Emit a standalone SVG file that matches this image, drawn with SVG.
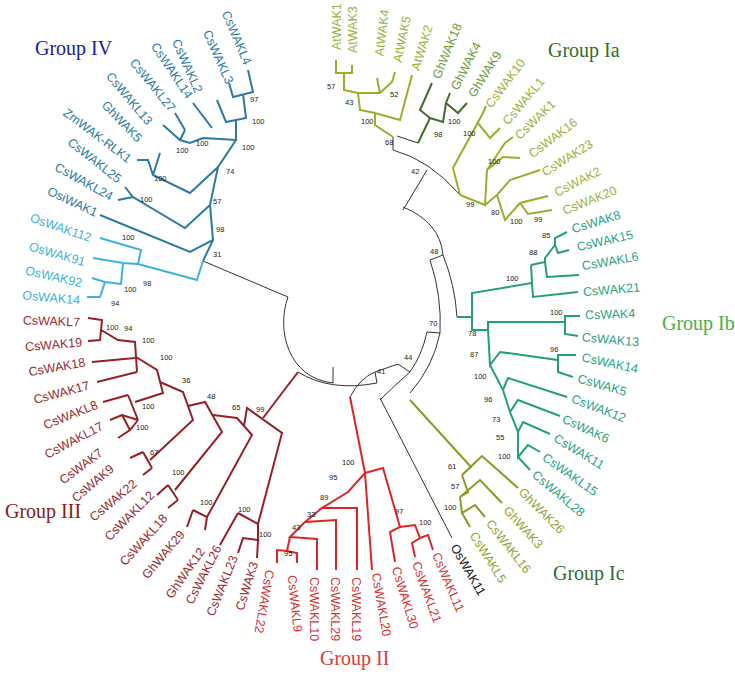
<svg xmlns="http://www.w3.org/2000/svg" width="735" height="686" viewBox="0 0 735 686">
<style>
text{font-family:"Liberation Sans",Arial,sans-serif;font-size:12.5px}
.b{font-size:7.5px;fill:#222}
.g{font-family:"Liberation Serif","Times New Roman",serif;font-size:20px}
path{fill:none;stroke-linejoin:miter}
.k{stroke:#333;stroke-width:1}
.t4{stroke:#2a7aa2;stroke-width:2}.f4{fill:#2a7aa2}
.os{stroke:#3cb3da;stroke-width:2}.fos{fill:#3cb3da}
.t3{stroke:#962026;stroke-width:2}.f3{fill:#9a2a2e}
.t2{stroke:#dd2525;stroke-width:2}.f2{fill:#d83030}
.tc{stroke:#8a9a22;stroke-width:2}.fc{fill:#94a32c}
.tb{stroke:#22a07a;stroke-width:2}.fb{fill:#2aa47e}
.ta{stroke:#9aae2e;stroke-width:2}.fa{fill:#9cb23e}
.tg{stroke:#3e6e28;stroke-width:2}.fg{fill:#6a9a3a}
</style>
<rect width="735" height="686" fill="#fff"/>
<g id="connectors">
<path class="k" d="M203,261 L288,297 M288,297 C276,330 288,378 333,383 L333,367 M298,372 Q330,392 377,383 L375,372 M350,397 Q360,378 375,372 L398,364 M380,400 Q395,385 410,372 L398,364 M410,372 Q422,355 427,332 L440,333 M410,393 Q433,367 440,333 M430,260 Q442,296 440,333 M430,260 L443,255 M403,207 Q440,222 443,255 Q455,285 457,317 M403,210 L427,170 M393,150 Q430,160 460,195 M393,137 L393,150 M397,136 L418,143 M380,398 L452,538"/>
<path class="t3" stroke-width="1" d="M298,372 L263,418"/>
<path class="tg" stroke-width="1" d="M418,143 L430,118"/>
<path class="t4" d="M248,70 L253,92 L233,97 L229,83 M243,94 L246,118 L226,122 L217,100 M236,120 L236,140 L203,138 M212,128 L193,103 M203,138 L190,143 L180,140 L163,125 M185,130 L175,113 M180,140 L185,130 M236,140 L218,167 L190,193 L153,175 L148,160 L137,160 M153,175 L160,153 M218,167 L210,205 L185,228 L133,197 L125,187 M133,197 L118,200 M210,205 L213,240 L190,252 L100,215 M213,240 L203,261"/>
<path class="os" d="M203,261 L197,280 L138,264 L141,250 L100,238 M138,264 L123,263 L93,258 M123,263 L121,284 L105,282 L92,278 M105,282 L100,297 L87,297"/>
<path class="t3" d="M88,318 L102,320 L100,340 L88,341 M101,330 L118,340 L135,342 L137,372 M135,358 L92,362 M137,372 L97,382 M136,357 L157,370 L163,393 L135,402 M128,395 L138,420 M128,395 L103,402 M138,420 L122,415 L110,420 M138,420 L130,430 L118,438 M122,415 L130,430 M160,382 L183,392 L193,420 L150,460 M143,452 L152,468 M143,452 L130,458 M152,468 L143,475 M188,406 L205,402 L222,432 L175,490 M168,485 L178,500 M168,485 L157,495 M178,500 L168,508 M213,415 L237,418 L252,435 L207,517 M193,510 L207,517 L205,530 M193,510 L187,527 M244,426 L247,408 L282,433 L258,524 M238,513 L258,524 M238,513 L220,545 M258,524 L258,540 L243,538 L238,553 M258,540 L257,558"/>
<path class="t2" d="M350,397 L365,473 L383,468 L400,527 L390,532 L395,562 M400,527 L415,525 L420,538 L412,543 L415,557 M420,538 L428,535 L433,550 M365,473 L348,492 L322,508 L357,508 L357,570 M322,508 L305,522 L336,520 L336,570 M305,522 L290,537 L317,539 L317,570 M290,537 L287,551 L277,550 L277,563 M287,551 L297,553 L297,563 M365,473 L372,570"/>
<path class="tc" d="M410,400 L471,467 L462,475 L482,456 L518,488 M462,475 L468,492 L460,497 L480,480 L502,503 M460,497 L462,513 L475,505 L485,517 M462,513 L470,527"/>
<path class="tb" d="M457,317 L472,317 L472,293 L532,283 L531,265 M532,283 L533,297 L578,292 M531,265 L545,262 L545,258 L555,245 L555,238 L567,232 M555,245 L558,253 L569,250 M545,262 L547,277 L579,275 M472,317 L472,330 L488,330 L488,322 L565,322 L565,316 L580,316 M565,322 L565,334 L578,336 M488,330 L490,365 L500,352 L558,360 L558,355 L576,355 M558,360 L558,372 L573,377 M490,365 L503,390 L508,378 L567,397 M503,390 L510,412 L518,400 L560,416 M510,412 L518,432 L523,422 L550,434 M518,432 L518,457 L528,445 L540,452 M518,457 L530,470"/>
<path class="ta" d="M393,137 L375,125 L375,113 L400,120 L412,75 M375,113 L360,110 L358,93 L380,93 L392,82 L395,72 M380,93 L377,78 M358,93 L344,90 L344,73 L336,73 L336,60 M344,73 L352,73 L352,65 M460,195 L453,168 L483,113 L486,106 M477,122 L490,138 L500,128 M460,195 L485,205 L487,170 L505,143 L513,137 M487,170 L503,157 L520,158 M485,205 L497,195 L510,180 L540,170 M497,195 L505,220 L520,203 L548,196 M520,203 L528,214 L552,210"/>
<path class="tg" d="M430,118 L420,110 L432,83 M430,118 L443,122 L446,103 L450,93 M446,103 L458,113 L467,103"/>
</g>
<g id="labels4">
<text class="f4" transform="translate(248,64) rotate(67)" text-anchor="end" dy="0.35em">CsWAKL4</text>
<text class="f4" transform="translate(230,83) rotate(66)" text-anchor="end" dy="0.35em">CsWAKL3</text>
<text class="f4" transform="translate(199,92) rotate(66)" text-anchor="end" dy="0.35em">CsWAKL2</text>
<text class="f4" transform="translate(190,97) rotate(56)" text-anchor="end" dy="0.35em">CsWAKL14</text>
<text class="f4" transform="translate(173,110) rotate(51)" text-anchor="end" dy="0.35em">CsWAKL27</text>
<text class="f4" transform="translate(150,123) rotate(50)" text-anchor="end" dy="0.35em">CsWAKL13</text>
<text class="f4" transform="translate(140,140) rotate(46)" text-anchor="end" dy="0.35em">GhWAK5</text>
<text class="f4" transform="translate(130,160) rotate(37)" text-anchor="end" dy="0.35em">ZmWAK-RLK1</text>
<text class="f4" transform="translate(120,180) rotate(38)" text-anchor="end" dy="0.35em">CsWAKL25</text>
<text class="f4" transform="translate(112,197) rotate(29)" text-anchor="end" dy="0.35em">CsWAKL24</text>
<text class="f4" transform="translate(97,213) rotate(25)" text-anchor="end" dy="0.35em">OsiWAK1</text>
<text class="fos" transform="translate(91,238) rotate(19)" text-anchor="end" dy="0.35em">OsWAK112</text>
<text class="fos" transform="translate(85,262) rotate(16)" text-anchor="end" dy="0.35em">OsWAK91</text>
<text class="fos" transform="translate(82,283) rotate(13)" text-anchor="end" dy="0.35em">OsWAK92</text>
<text class="fos" transform="translate(80,300) rotate(5)" text-anchor="end" dy="0.35em">OsWAK14</text>
</g>
<g id="labels3">
<text class="f3" transform="translate(80,322) rotate(2)" text-anchor="end" dy="0.35em">CsWAKL7</text>
<text class="f3" transform="translate(82,342) rotate(-5)" text-anchor="end" dy="0.35em">CsWAK19</text>
<text class="f3" transform="translate(85,362) rotate(-10)" text-anchor="end" dy="0.35em">CsWAK18</text>
<text class="f3" transform="translate(89,385) rotate(-15)" text-anchor="end" dy="0.35em">CsWAK17</text>
<text class="f3" transform="translate(97,404) rotate(-22)" text-anchor="end" dy="0.35em">CsWAKL8</text>
<text class="f3" transform="translate(102,425) rotate(-28)" text-anchor="end" dy="0.35em">CsWAKL17</text>
<text class="f3" transform="translate(101,451) rotate(-37)" text-anchor="end" dy="0.35em">CsWAK7</text>
<text class="f3" transform="translate(112,467) rotate(-40)" text-anchor="end" dy="0.35em">CsWAK9</text>
<text class="f3" transform="translate(135,482) rotate(-40)" text-anchor="end" dy="0.35em">CsWAK22</text>
<text class="f3" transform="translate(152,493) rotate(-45)" text-anchor="end" dy="0.35em">CsWAKL12</text>
<text class="f3" transform="translate(165,516) rotate(-48)" text-anchor="end" dy="0.35em">CsWAKL18</text>
<text class="f3" transform="translate(182,532) rotate(-50)" text-anchor="end" dy="0.35em">GhWAK29</text>
<text class="f3" transform="translate(202,549) rotate(-55)" text-anchor="end" dy="0.35em">GhWAK12</text>
<text class="f3" transform="translate(218,546) rotate(-63)" text-anchor="end" dy="0.35em">CsWAKL26</text>
<text class="f3" transform="translate(234,556) rotate(-68)" text-anchor="end" dy="0.35em">CsWAKL23</text>
<text class="f3" transform="translate(254,562) rotate(-73)" text-anchor="end" dy="0.35em">CsWAK3</text>
</g>
<g id="labels2">
<text class="f2" transform="translate(270,570) rotate(100)" dy="0.35em">CsWAKL22</text>
<text class="f2" transform="translate(292,575) rotate(84)" dy="0.35em">CsWAKL9</text>
<text class="f2" transform="translate(314,577) rotate(90)" dy="0.35em">CsWAKL10</text>
<text class="f2" transform="translate(335,577) rotate(90)" dy="0.35em">CsWAKL29</text>
<text class="f2" transform="translate(356,577) rotate(90)" dy="0.35em">CsWAKL19</text>
<text class="f2" transform="translate(376,573) rotate(80)" dy="0.35em">CsWAKL20</text>
<text class="f2" transform="translate(396,567) rotate(73)" dy="0.35em">CsWAKL30</text>
<text class="f2" transform="translate(416,562) rotate(70)" dy="0.35em">CsWAKL21</text>
<text class="f2" transform="translate(436,553) rotate(67)" dy="0.35em">CsWAKL11</text>
<text fill="#111" transform="translate(454,545) rotate(60)" dy="0.35em">OsWAK11</text>
</g>
<g id="labelsc">
<text class="fc" transform="translate(473,533) rotate(58)" dy="0.35em">CsWAKL5</text>
<text class="fc" transform="translate(489,521) rotate(52)" dy="0.35em">CsWAKL16</text>
<text class="fc" transform="translate(506,508) rotate(48)" dy="0.35em">GhWAK3</text>
<text class="fc" transform="translate(521,490) rotate(45)" dy="0.35em">GhWAK26</text>
</g>
<g id="labelsb">
<text class="fb" transform="translate(534,473) rotate(40)" dy="0.35em">CsWAKL28</text>
<text class="fb" transform="translate(544,456) rotate(35)" dy="0.35em">CsWAKL15</text>
<text class="fb" transform="translate(555,437) rotate(31)" dy="0.35em">CsWAK11</text>
<text class="fb" transform="translate(563,418) rotate(25)" dy="0.35em">CsWAK6</text>
<text class="fb" transform="translate(572,398) rotate(21)" dy="0.35em">CsWAK12</text>
<text class="fb" transform="translate(578,378) rotate(16)" dy="0.35em">CsWAK5</text>
<text class="fb" transform="translate(582,357) rotate(12)" dy="0.35em">CsWAK14</text>
<text class="fb" transform="translate(582,337) rotate(5)" dy="0.35em">CsWAK13</text>
<text class="fb" transform="translate(585,315) rotate(-2)" dy="0.35em">CsWAK4</text>
<text class="fb" transform="translate(583,292) rotate(-5)" dy="0.35em">CsWAK21</text>
<text class="fb" transform="translate(582,266) rotate(-10)" dy="0.35em">CsWAKL6</text>
<text class="fb" transform="translate(577,247) rotate(-13)" dy="0.35em">CsWAK15</text>
<text class="fb" transform="translate(572,229) rotate(-17)" dy="0.35em">CsWAK8</text>
</g>
<g id="labelsa">
<text class="fa" transform="translate(563,211) rotate(-22)" dy="0.35em">CsWAK20</text>
<text class="fa" transform="translate(555,193) rotate(-27)" dy="0.35em">CsWAK2</text>
<text class="fa" transform="translate(543,173) rotate(-32)" dy="0.35em">CsWAK23</text>
<text class="fa" transform="translate(530,155) rotate(-37)" dy="0.35em">CsWAK16</text>
<text class="fa" transform="translate(517,137) rotate(-44)" dy="0.35em">CsWAK1</text>
<text class="fa" transform="translate(505,123) rotate(-50)" dy="0.35em">CsWAKL1</text>
<text class="fa" transform="translate(488,106) rotate(-53)" dy="0.35em">CsWAK10</text>
<text class="fg" transform="translate(471,96) rotate(-58)" dy="0.35em">GhWAK9</text>
<text class="fg" transform="translate(454,89) rotate(-63)" dy="0.35em">GhWAK4</text>
<text class="fg" transform="translate(436,78) rotate(-68)" dy="0.35em">GhWAK18</text>
<text class="fa" transform="translate(415,70) rotate(-73)" dy="0.35em">AtWAK2</text>
<text class="fa" transform="translate(397,62) rotate(-78)" dy="0.35em">AtWAK5</text>
<text class="fa" transform="translate(379,56) rotate(-83)" dy="0.35em">AtWAK4</text>
<text class="fa" transform="translate(353,53) rotate(-90)" dy="0.35em">AtWAK3</text>
<text class="fa" transform="translate(337,50) rotate(-90)" dy="0.35em">AtWAK1</text>
</g>
<g id="groups">
<text class="g" x="35" y="55" fill="#1a1aa8">Group IV</text>
<text class="g" x="548" y="57" fill="#2e6e2e">Group Ia</text>
<text class="g" x="662" y="330" fill="#4aae4a">Group Ib</text>
<text class="g" x="553" y="580" fill="#2e6e2e">Group Ic</text>
<text class="g" x="5" y="518" fill="#8a1a22">Group III</text>
<text class="g" x="320" y="665" fill="#dd3a3a">Group II</text>
</g>
<g id="bootstrap" class="b">
<text class="b" x="250" y="102">97</text><text class="b" x="252" y="124">100</text><text class="b" x="242" y="150">100</text><text class="b" x="226" y="174">74</text>
<text class="b" x="196" y="146">100</text><text class="b" x="176" y="153">100</text><text class="b" x="154" y="181">100</text><text class="b" x="140" y="202">100</text>
<text class="b" x="213" y="204">57</text><text class="b" x="122" y="240">100</text><text class="b" x="216" y="232">98</text><text class="b" x="213" y="257">31</text>
<text class="b" x="143" y="286">98</text><text class="b" x="124" y="292">100</text><text class="b" x="111" y="306">94</text>
<text class="b" x="106" y="330">100</text><text class="b" x="124" y="331">94</text><text class="b" x="142" y="343">100</text><text class="b" x="160" y="360">100</text>
<text class="b" x="182" y="383">36</text><text class="b" x="142" y="409">100</text><text class="b" x="136" y="430">100</text><text class="b" x="207" y="399">48</text>
<text class="b" x="232" y="410">65</text><text class="b" x="256" y="412">99</text><text class="b" x="150" y="455">67</text><text class="b" x="172" y="475">100</text>
<text class="b" x="200" y="505">100</text><text class="b" x="238" y="512">100</text><text class="b" x="259" y="537">100</text>
<text class="b" x="284" y="556">95</text><text class="b" x="292" y="530">43</text><text class="b" x="307" y="517">33</text><text class="b" x="320" y="500">89</text>
<text class="b" x="329" y="480">95</text><text class="b" x="342" y="465">100</text><text class="b" x="395" y="514">97</text><text class="b" x="419" y="525">100</text>
<text class="b" x="448" y="469">61</text><text class="b" x="451" y="489">57</text><text class="b" x="444" y="510">100</text>
<text class="b" x="470" y="357">87</text><text class="b" x="474" y="379">100</text><text class="b" x="484" y="402">96</text><text class="b" x="492" y="422">73</text>
<text class="b" x="496" y="440">55</text><text class="b" x="498" y="459">100</text><text class="b" x="550" y="352">96</text><text class="b" x="468" y="336">78</text>
<text class="b" x="429" y="326">70</text><text class="b" x="404" y="360">44</text><text class="b" x="377" y="374">41</text><text class="b" x="430" y="254">48</text>
<text class="b" x="550" y="315">100</text><text class="b" x="506" y="281">100</text><text class="b" x="529" y="255">88</text><text class="b" x="542" y="238">85</text>
<text class="b" x="327" y="89">57</text><text class="b" x="345" y="105">43</text><text class="b" x="390" y="97">52</text><text class="b" x="361" y="124">100</text>
<text class="b" x="385" y="145">68</text><text class="b" x="411" y="174">42</text><text class="b" x="434" y="137">98</text><text class="b" x="448" y="124">100</text>
<text class="b" x="463" y="136">100</text><text class="b" x="488" y="164">100</text><text class="b" x="466" y="207">99</text><text class="b" x="491" y="215">80</text>
<text class="b" x="510" y="224">100</text><text class="b" x="534" y="222">99</text>
</g>
</svg>
